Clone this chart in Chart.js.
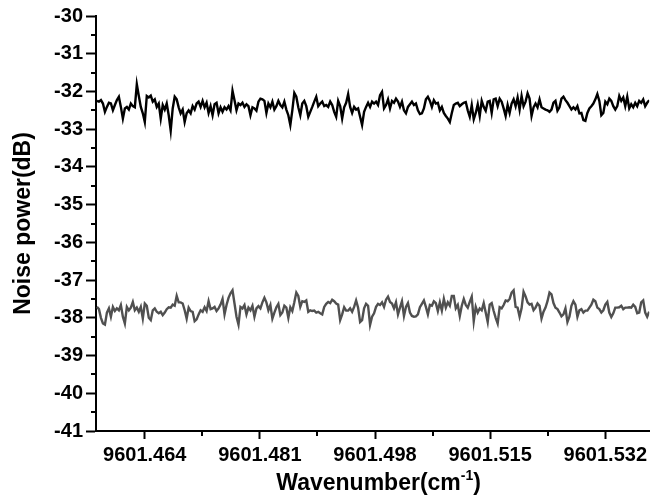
<!DOCTYPE html>
<html>
<head>
<meta charset="utf-8">
<script src="https://cdn.jsdelivr.net/npm/chart.js@4/dist/chart.umd.min.js"></script>
<style>
  html, body { margin: 0; padding: 0; background: #fff; }
  #wrap { width: 651px; height: 501px; position: relative; }
</style>
</head>
<body>
<div id="wrap"><canvas id="noiseChart"></canvas></div>
<script>
// sampling grid of the spectrum (cm^-1)
const xStart = 9601.45694;
const xStep = 0.00029437;

const xTickValues = [9601.464, 9601.481, 9601.498, 9601.515, 9601.532];
const xMinorTicks = [9601.4725, 9601.4895, 9601.5065, 9601.5235];
const yMin = -41;
const yMax = -30;

// upper trace (black)
const upperNoise = [
  -32.25, -32.27, -32.23, -32.32, -32.54, -32.41, -32.30, -32.32, -32.50, -32.36,
  -32.23, -32.14, -32.41, -32.72, -32.45, -32.41, -32.48, -32.32, -32.39, -32.42,
  -31.81, -32.12, -32.41, -32.58, -32.81, -32.12, -32.16, -32.11, -32.27, -32.21,
  -32.41, -32.32, -32.72, -32.36, -32.48, -32.32, -32.63, -33.04, -32.45, -32.14,
  -32.21, -32.42, -32.58, -32.48, -32.81, -32.58, -32.50, -32.58, -32.39, -32.48,
  -32.32, -32.27, -32.41, -32.25, -32.42, -32.30, -32.57, -32.39, -32.63, -32.34,
  -32.30, -32.58, -32.42, -32.54, -32.42, -32.48, -32.39, -32.50, -31.98,
  -32.23, -32.50, -32.32, -32.36, -32.30, -32.41, -32.34, -32.39, -32.63, -32.42,
  -32.45, -32.51, -32.27, -32.19, -32.21, -32.25, -32.57, -32.32, -32.42, -32.27,
  -32.48, -32.39, -32.25, -32.36, -32.42, -32.27, -32.48, -32.63, -32.89, -32.50,
  -32.04, -32.14, -32.42, -32.63, -32.32, -32.25, -32.39, -32.67, -32.54, -32.41,
  -32.27, -32.14, -32.39, -32.32, -32.27, -32.39, -32.36, -32.41, -32.27, -32.36,
  -32.54, -32.67, -32.25, -32.39, -32.72, -32.42, -32.30, -32.07, -32.41, -32.57,
  -32.41, -32.48, -32.45, -32.67, -32.89, -32.54, -32.41, -32.30,
  -32.41, -32.27, -32.32, -32.27, -32.36, -32.10, -32.01, -32.45, -32.36, -32.21,
  -32.45, -32.25, -32.30, -32.19, -32.27, -32.41, -32.27, -32.50, -32.58, -32.41,
  -32.34, -32.27, -32.36, -32.32, -32.50, -32.60, -32.58, -32.45, -32.21, -32.14,
  -32.25, -32.41, -32.23, -32.32, -32.30, -32.50, -32.41, -32.57, -32.65, -32.72,
  -32.81, -32.57, -32.36, -32.32, -32.30, -32.39, -32.34, -32.30, -32.28, -32.50,
  -32.67, -32.36, -32.74, -32.57, -32.34, -32.65, -32.25, -32.41, -32.51, -32.27,
  -32.25, -32.57, -32.21, -32.19, -32.39, -32.19, -32.27,
  -32.45, -32.65, -32.36, -32.57, -32.32, -32.21, -32.39, -32.16, -32.48, -32.12,
  -32.39, -32.27, -32.05, -32.19, -32.65, -32.42, -32.32, -32.42, -32.21, -32.42,
  -32.45, -32.48, -32.50, -32.54, -32.48, -32.30, -32.25, -32.51, -32.42, -32.19,
  -32.14, -32.23, -32.30, -32.39, -32.48, -32.42, -32.48, -32.39, -32.58, -32.57,
  -32.76, -32.78, -32.57, -32.45, -32.39, -32.32, -32.21, -32.07, -32.25, -32.63,
  -32.57, -32.27, -32.34, -32.19, -32.25, -32.39, -32.48, -32.39, -32.12, -32.25,
  -32.16, -32.39, -32.14, -32.45, -32.34, -32.42, -32.30, -32.39, -32.25, -32.30,
  -32.21, -32.39, -32.30, -32.23
];

// lower trace (grey)
const lowerNoise = [
  -37.71, -37.77, -38.00, -38.15, -38.18, -37.86, -37.75, -37.97, -37.71, -37.82,
  -37.75, -37.80, -37.66, -37.97, -38.15, -37.71, -37.80, -37.73, -37.58, -37.80,
  -37.73, -37.84, -37.71, -38.02, -37.62, -37.68, -38.00, -38.06, -37.80, -37.75,
  -37.84, -37.88, -37.84, -37.93, -37.86, -37.77, -37.72, -37.73, -37.65, -37.68,
  -37.42, -37.59, -37.59, -37.62, -37.80, -38.02, -37.73, -37.82, -37.84, -38.09,
  -38.04, -37.91, -37.80, -37.84, -37.72, -37.82, -37.56, -37.77, -37.75, -37.71,
  -37.82, -37.75, -37.65, -37.50, -37.91, -37.66, -37.47, -37.35, -37.27,
  -37.62, -37.97, -38.18, -37.71, -37.75, -37.66, -37.91, -37.73, -37.80, -37.68,
  -37.97, -37.75, -37.69, -37.75, -37.59, -37.47, -37.59, -37.80, -37.66, -38.02,
  -37.86, -37.72, -37.63, -37.93, -37.86, -37.68, -37.73, -38.00, -37.72, -37.82,
  -37.59, -37.33, -37.42, -37.71, -37.56, -37.58, -37.54, -37.84, -37.80, -37.82,
  -37.81, -37.86, -37.84, -37.88, -37.91, -37.71, -37.63, -37.58, -37.61, -37.52,
  -37.56, -37.62, -37.65, -38.06, -37.91, -37.72, -37.81, -37.81, -37.75, -37.84,
  -37.71, -37.54, -37.73, -38.11, -38.06, -37.75, -37.63, -37.68,
  -38.19, -37.97, -37.88, -37.71, -37.63, -37.66, -37.59, -37.71, -37.52, -37.44,
  -37.58, -37.62, -37.75, -37.59, -37.91, -37.73, -37.56, -37.95, -37.71, -37.61,
  -37.86, -37.95, -37.97, -37.96, -37.91, -37.72, -37.63, -37.54, -37.71, -37.91,
  -37.66, -37.68, -37.56, -37.61, -37.82, -37.59, -37.81, -37.50, -37.73, -37.59,
  -37.68, -37.42, -37.42, -37.75, -37.66, -37.95, -37.68, -37.50, -37.66, -37.73,
  -37.58, -37.44, -38.09, -37.71, -37.86, -37.75, -37.80, -37.61, -37.86, -38.11,
  -37.65, -37.61, -37.82, -38.00, -38.15, -37.72, -37.75,
  -37.66, -37.54, -37.56, -37.50, -37.33, -37.27, -37.71, -37.73, -37.97, -37.75,
  -37.31, -37.43, -37.59, -37.65, -37.63, -37.80, -37.73, -37.62, -37.68, -38.02,
  -37.84, -37.73, -37.56, -37.33, -37.38, -37.61, -37.73, -37.77, -37.86, -37.96,
  -37.91, -37.75, -38.11, -37.97, -37.68, -37.56, -37.65, -37.97, -37.80, -37.77,
  -37.86, -37.81, -37.81, -37.73, -37.65, -37.52, -37.56, -37.73, -37.77, -37.86,
  -37.80, -37.65, -37.58, -37.86, -37.98, -37.88, -37.73, -37.73, -37.72, -37.68,
  -37.77, -37.73, -37.73, -37.72, -37.73, -37.65, -37.71, -37.88, -37.86, -37.59,
  -37.54, -37.86, -37.97, -37.84
];

const fontFamily = '"Liberation Sans", Arial, sans-serif';

function toPoints(values) {
  return values.map((v, i) => ({ x: xStart + i * xStep, y: v }));
}

// minor ticks + x title with superscript
const axisExtras = {
  id: 'axisExtras',
  afterDraw(chart) {
    const ctx = chart.ctx;
    const xs = chart.scales.x;
    const ys = chart.scales.y;
    const area = chart.chartArea;
    ctx.save();
    ctx.strokeStyle = '#000';
    ctx.lineWidth = 2;
    ctx.beginPath();
    for (let v = yMin + 0.5; v < yMax; v += 1) {
      const py = Math.round(ys.getPixelForValue(v));
      ctx.moveTo(area.left - 5, py);
      ctx.lineTo(area.left, py);
    }
    xMinorTicks.forEach(v => {
      const px = Math.round(xs.getPixelForValue(v));
      ctx.moveTo(px, area.bottom);
      ctx.lineTo(px, area.bottom + 5);
    });
    ctx.stroke();

    // axis title: Wavenumber(cm-1)
    const big = 'bold 23px ' + fontFamily;
    const small = 'bold 14px ' + fontFamily;
    const part1 = 'Wavenumber(cm', sup = '-1', part2 = ')';
    ctx.font = big;
    const w1 = ctx.measureText(part1).width;
    const w3 = ctx.measureText(part2).width;
    ctx.font = small;
    const w2 = ctx.measureText(sup).width;
    const total = w1 + w2 + w3;
    const cx = (area.left + area.right) / 2 + 6;
    let tx = cx - total / 2;
    const base = 490;
    ctx.fillStyle = '#000';
    ctx.textBaseline = 'alphabetic';
    ctx.textAlign = 'left';
    ctx.font = big;
    ctx.fillText(part1, tx, base);
    tx += w1;
    ctx.font = small;
    ctx.fillText(sup, tx, base - 10);
    tx += w2;
    ctx.font = big;
    ctx.fillText(part2, tx, base);
    ctx.restore();
  }
};

const ctx = document.getElementById('noiseChart');
new Chart(ctx, {
  type: 'line',
  data: {
    datasets: [
      {
        label: 'upper',
        data: toPoints(upperNoise),
        borderColor: '#000000',
        borderWidth: 2.4,
        pointRadius: 0,
        tension: 0
      },
      {
        label: 'lower',
        data: toPoints(lowerNoise),
        borderColor: '#505050',
        borderWidth: 2.4,
        pointRadius: 0,
        tension: 0
      }
    ]
  },
  options: {
    responsive: true,
    maintainAspectRatio: false,
    animation: false,
    events: [],
    layout: { padding: { top: 16, left: 0, right: 0, bottom: 0 } },
    plugins: {
      legend: { display: false },
      tooltip: { enabled: false }
    },
    scales: {
      x: {
        type: 'linear',
        min: 9601.4568,
        max: 9601.53849,
        afterBuildTicks: (scale) => {
          scale.ticks = xTickValues.map(v => ({ value: v }));
        },
        afterFit: (scale) => { scale.height = 70; },
        grid: {
          display: true,
          drawOnChartArea: false,
          drawTicks: true,
          tickLength: 8,
          tickWidth: 2,
          tickColor: '#000'
        },
        border: { display: true, color: '#000', width: 2 },
        ticks: {
          autoSkip: false,
          maxRotation: 0,
          padding: 4,
          color: '#000',
          font: { family: fontFamily, size: 20, weight: 'bold' },
          callback: (v) => Number(v).toFixed(3)
        }
      },
      y: {
        min: yMin,
        max: yMax,
        afterFit: (scale) => { scale.width = 96; },
        grid: {
          display: true,
          drawOnChartArea: false,
          drawTicks: true,
          tickLength: 10,
          tickWidth: 2,
          tickColor: '#000'
        },
        border: { display: true, color: '#000', width: 2 },
        ticks: {
          stepSize: 1,
          padding: 3,
          color: '#000',
          font: { family: fontFamily, size: 20, weight: 'bold' }
        },
        title: {
          display: true,
          text: 'Noise power(dB)',
          color: '#000',
          padding: { top: 10, bottom: 0 },
          font: { family: fontFamily, size: 23, weight: 'bold' }
        }
      }
    }
  },
  plugins: [axisExtras]
});
</script>
</body>
</html>
